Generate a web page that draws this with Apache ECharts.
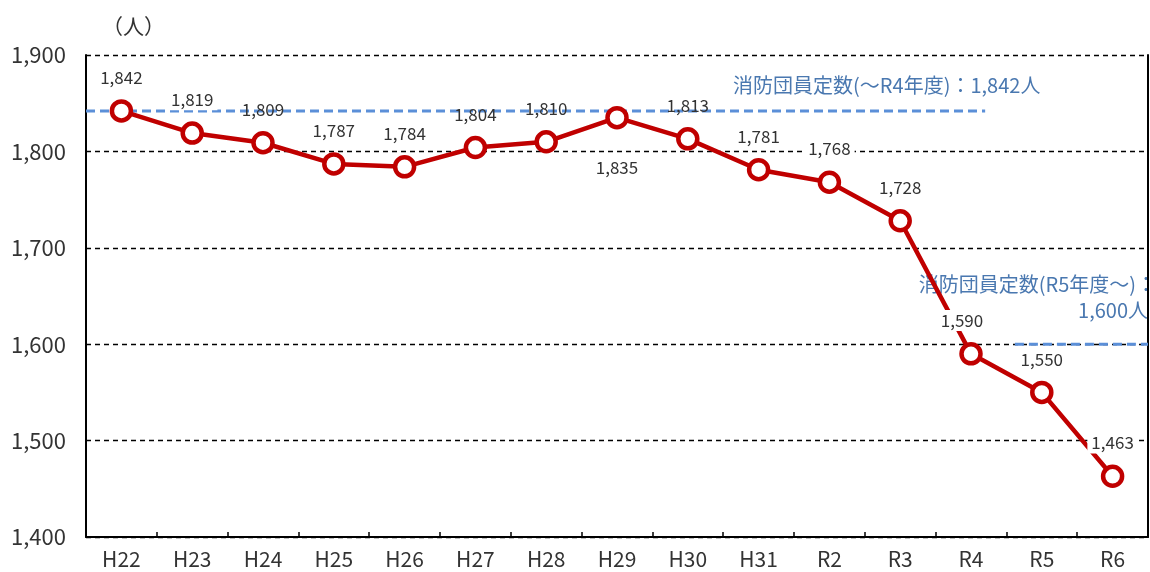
<!DOCTYPE html>
<html>
<head>
<meta charset="utf-8">
<script src="https://cdn.jsdelivr.net/npm/echarts@6/dist/echarts.min.js"></script>
<style>
  html, body { margin: 0; padding: 0; background: #fff; }
  #chart { width: 1150px; height: 572px; }
</style>
</head>
<body>
<div id="chart"></div>
<script>
// 年度
const categories = ['H22','H23','H24','H25','H26','H27','H28','H29','H30','H31','R2','R3','R4','R5','R6'];
// 消防団員数（人）
const members = [1842,1819,1809,1787,1784,1804,1810,1835,1813,1781,1768,1728,1590,1550,1463];
// 定数
const quotaOld = 1842;   // ～R4年度
const quotaNew = 1600;   // R5年度～
const yTicks = [1400, 1500, 1600, 1700, 1800, 1900];

const FONT = '"Noto Sans CJK JP", "Noto Sans", sans-serif';
const RED = '#C00000';
const BLUE_LINE = '#5B8FD8';
const BLUE_TEXT = '#4A78B0';

// labels that sit on the quota line keep a clear background
const clearBg = new Set([2, 5, 6, 8]);
const labelBelow = new Set([7]);

const seriesData = members.map((v, i) => ({
  value: v,
  label: {
    position: labelBelow.has(i) ? 'bottom' : 'top',
    distance: labelBelow.has(i) ? 28 : 11,
    offset: i === 12 ? [-9, 0] : [0, 0],
    backgroundColor: clearBg.has(i) ? 'transparent' : '#fff'
  }
}));

const fmt = v => v.toLocaleString('en-US');

const chart = echarts.init(document.getElementById('chart'));
chart.setOption({
  animation: false,
  textStyle: { fontFamily: FONT },
  grid: { left: 86, right: 2, top: 55, bottom: 35 },
  xAxis: [
    {
      type: 'category',
      data: categories,
      boundaryGap: true,
      axisLine: { lineStyle: { color: '#000', width: 2 } },
      axisTick: { show: true, inside: true, length: 5, lineStyle: { color: '#000', width: 1.5 } },
      axisLabel: { fontSize: 21, color: '#333', margin: 12, fontFamily: FONT }
    },
    { type: 'value', min: -0.5, max: 14.5, show: false }
  ],
  yAxis: [
    {
      type: 'value',
      min: yTicks[0],
      max: yTicks[yTicks.length - 1],
      interval: 100,
      name: '（人）',
      nameLocation: 'end',
      nameGap: 18,
      nameTextStyle: { fontSize: 21, color: '#333', fontFamily: FONT, align: 'left', padding: [0, 0, 0, 16] },
      axisLine: { show: true, onZero: false, lineStyle: { color: '#000', width: 2 } },
      axisTick: { show: false },
      axisLabel: { fontSize: 22, color: '#333', margin: 20, formatter: v => fmt(v), fontFamily: FONT },
      splitLine: { show: true, lineStyle: { color: '#000', width: 1.4, type: [5, 4] } }
    },
    {
      type: 'value',
      position: 'right',
      min: yTicks[0],
      max: yTicks[yTicks.length - 1],
      interval: 100,
      axisLine: { show: true, onZero: false, lineStyle: { color: '#000', width: 2 } },
      axisTick: { show: false },
      axisLabel: { show: false },
      splitLine: { show: false }
    }
  ],
  series: [
    {
      name: '定数(～R4年度)',
      type: 'line',
      xAxisIndex: 1,
      data: [[-0.5, quotaOld], [12.2, quotaOld]],
      symbol: 'none',
      silent: true,
      z: 2,
      lineStyle: { color: BLUE_LINE, width: 3, type: [9, 5] }
    },
    {
      name: '定数(R5年度～)',
      type: 'line',
      xAxisIndex: 1,
      data: [[12.62, quotaNew], [14.5, quotaNew]],
      symbol: 'none',
      silent: true,
      z: 2,
      lineStyle: { color: BLUE_LINE, width: 3, type: [9, 5] }
    },
    {
      name: '消防団員数',
      type: 'line',
      data: seriesData,
      z: 3,
      symbol: 'circle',
      symbolSize: 19,
      lineStyle: { color: RED, width: 4.5 },
      itemStyle: { color: '#fff', borderColor: RED, borderWidth: 4.5 },
      label: {
        show: true,
        fontSize: 17,
        color: '#333',
        fontFamily: FONT,
        padding: [2, 4],
        formatter: p => fmt(p.value)
      }
    }
  ]
});

// 定数の注記
function placeNotes() {
  const p1 = chart.convertToPixel({ xAxisIndex: 1, yAxisIndex: 0 }, [12.98, quotaOld]);
  const p2 = chart.convertToPixel({ xAxisIndex: 1, yAxisIndex: 0 }, [14.5, quotaNew]);
  chart.setOption({
    graphic: [
      {
        type: 'text', x: p1[0], y: p1[1] - 26,
        style: { text: '消防団員定数(～R4年度)：' + fmt(quotaOld) + '人', fill: BLUE_TEXT, font: '20px ' + FONT, align: 'right', verticalAlign: 'middle' }
      },
      {
        type: 'text', x: p2[0] + 8, y: p2[1] - 60,
        style: { text: '消防団員定数(R5年度～)：', fill: BLUE_TEXT, font: '20px ' + FONT, align: 'right', verticalAlign: 'middle' }
      },
      {
        type: 'text', x: p2[0], y: p2[1] - 34,
        style: { text: fmt(quotaNew) + '人', fill: BLUE_TEXT, font: '20px ' + FONT, align: 'right', verticalAlign: 'middle' }
      }
    ]
  });
}
placeNotes();
</script>
</body>
</html>
